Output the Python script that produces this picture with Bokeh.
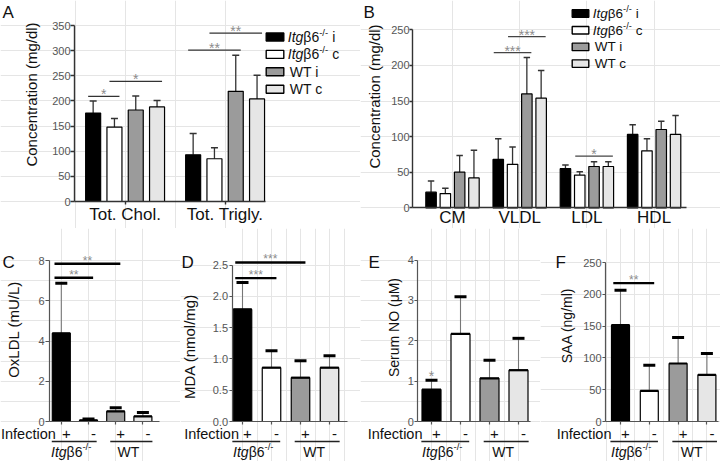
import math
from bokeh.plotting import figure
from bokeh.models import Range1d, LinearAxis, FixedTicker, PrintfTickFormatter
from bokeh.layouts import row, column
from bokeh.embed import file_html
from bokeh.resources import INLINE
from bokeh.core.properties import value

FONT = "Liberation Sans"
INK = "#111111"
TICK_GREY = "#555555"
STAR_GREY = "#8c8c8c"
FILLS = ["#000000", "#ffffff", "#9b9b9b", "#e6e6e6"]

# ---------------- data ----------------
legend_suffix = ["i", "c"]             # Itgb6-/- i, Itgb6-/- c
legend_wt = ["WT i", "WT c"]

# Panel A
a_categories = ["Tot. Chol.", "Tot. Trigly."]
a_ko_i = [176, 93]
a_ko_i_err = [24, 42]
a_ko_c = [148, 85]
a_ko_c_err = [17, 22]
a_wt_i = [182, 219]
a_wt_i_err = [28, 72]
a_wt_c = [188, 204]
a_wt_c_err = [13, 47]
a_yticks = [0, 50, 100, 150, 200, 250, 300, 350]
a_sig = [(0, 0, 1, 209, "*"), (0, 1, 3, 239, "*"),
         (1, 0, 2, 301, "**"), (1, 1, 3, 335, "**")]

# Panel B
b_categories = ["CM", "VLDL", "LDL", "HDL"]
b_ko_i = [22, 68, 55, 103]
b_ko_i_err = [15.5, 29, 5, 13.5]
b_ko_c = [20, 61, 46, 80]
b_ko_c_err = [7.5, 24.5, 4.7, 17]
b_wt_i = [50, 160, 58, 110]
b_wt_i_err = [23.5, 51, 6.6, 11.6]
b_wt_c = [42, 154, 58, 103]
b_wt_c_err = [39, 39, 6.6, 26.6]
b_yticks = [0, 50, 100, 150, 200, 250]
b_sig = [(1, 0, 2, 218, "***"), (1, 1, 3, 240.5, "***"), (2, 1, 3, 72.5, "*")]

# Panels C-F : bars = Itgb6-/- +, Itgb6-/- -, WT +, WT -
infection = ["+", "-", "+", "-"]
c_mean = [4.38, 0.06, 0.50, 0.25]
c_err = [2.49, 0.06, 0.18, 0.20]
c_yticks = [0, 2, 4, 6, 8]
c_sig = [(0, 1, 7.14, "**"), (0, 2, 7.84, "**")]

d_mean = [1.79, 0.86, 0.70, 0.86]
d_err = [0.43, 0.27, 0.27, 0.19]
d_yticks = [0, 0.5, 1.0, 1.5, 2.0, 2.5]
d_sig = [(0, 1, 2.29, "***"), (0, 2, 2.54, "***")]

e_mean = [0.79, 2.17, 1.07, 1.27]
e_err = [0.23, 0.92, 0.45, 0.79]
e_yticks = [0, 1, 2, 3, 4]
e_star = [(0, "*")]

f_mean = [151.5, 48.2, 91.2, 73.4]
f_err = [55, 40.4, 40.8, 33.5]
f_yticks = [0, 50, 100, 150, 200, 250]
f_sig = [(0, 1, 217.5, "**")]

# ---------------- helpers ----------------
CW = {"I": .278, "t": .278, "g": .556, "β": .575, "6": .556, "-": .333, "/": .278,
      " ": .278, "i": .222, "c": .5, "W": .944, "T": .611, "n": .556, "f": .278,
      "e": .556, "o": .556, "+": .584}


def tw(s, fs):
    return sum(CW.get(ch, 0.556) for ch in s) * fs


class Panel:
    """canvas px -> data mapping: px_x = x0 + x*sx ; px_y = y0 - y*sy"""

    def __init__(self, left, top, width, height, x0, sx, y0, sy):
        self.x0, self.sx, self.y0, self.sy = x0, sx, y0, sy
        self.p = figure(width=width, height=height,
                        x_range=Range1d(self.dx(left), self.dx(left + width)),
                        y_range=Range1d(self.dy(top + height), self.dy(top)),
                        output_backend="svg", toolbar_location=None,
                        x_axis_location=None, y_axis_location=None,
                        min_border=0, outline_line_color=None,
                        background_fill_color="#ffffff", border_fill_color="#ffffff")

    def dx(self, px):
        return (px - self.x0) / self.sx

    def dy(self, py):
        return (self.y0 - py) / self.sy

    def text(self, px, py, txt, fs, style="normal", align="left",
             baseline="middle", color=INK, angle=0.0):
        self.p.text(x=[self.dx(px)], y=[self.dy(py)], text=[txt],
                    text_font=value(FONT), text_font_size=f"{fs}px",
                    text_font_style=style, text_align=align,
                    text_baseline=baseline, text_color=color, angle=angle)


def itg(panel, px, py, fs, suffix="", align="left"):
    pieces = [("Itg", fs, "italic", 0.0, 0.0), ("β6", fs, "normal", 0.0, 0.0),
              ("-/-", round(fs * 0.68, 1), "normal", -0.34 * fs, 0.0)]
    if suffix:
        pieces.append((suffix, fs, "normal", 0.0, 4.0))
    total = sum(tw(t, s) + g for t, s, _, _, g in pieces)
    x = px - total / 2 if align == "center" else px
    for t, s, st, d, g in pieces:
        x += g
        panel.text(x, py + d, t, s, style=st)
        x += tw(t, s)


def add_axes(panel, yloc_px, xend_px, yticks, ylabel, ylabel_fs, ylabel_cx, ylabel_cy,
             xticks, xlabels, xlabel_fs=17, y_tick_out=4, y_lab_standoff=0,
             x_tick_out=3, x_lab_standoff=0, color="#333333", lw=1.4, yfmt=None):
    xl = panel.dx(yloc_px)
    yax = LinearAxis(fixed_location=xl, bounds=(0, yticks[-1]),
                     ticker=FixedTicker(ticks=yticks, minor_ticks=[]))
    if yfmt is not None:
        yax.formatter = yfmt
    xax = LinearAxis(fixed_location=0, bounds=(xl, panel.dx(xend_px)),
                     ticker=FixedTicker(ticks=xticks, minor_ticks=[]),
                     major_label_overrides=dict(zip(xticks, xlabels)))
    for ax in (yax, xax):
        ax.axis_line_color = color
        ax.axis_line_width = lw
        ax.major_tick_line_color = color
        ax.major_tick_line_width = lw
        ax.major_tick_in = 0
        ax.minor_tick_in = 0
        ax.minor_tick_out = 0
        ax.major_label_text_font = FONT
    yax.major_tick_out = int(y_tick_out)
    yax.major_label_standoff = int(y_lab_standoff)
    yax.major_label_text_font_size = "11px"
    yax.major_label_text_color = TICK_GREY
    xax.major_tick_out = int(x_tick_out)
    xax.major_label_standoff = int(x_lab_standoff)
    xax.major_label_text_font_size = f"{xlabel_fs}px"
    xax.major_label_text_color = INK
    panel.p.add_layout(yax, "left")
    panel.p.add_layout(xax, "below")
    # axis title, rotated to read bottom-to-top
    panel.text(ylabel_cx, ylabel_cy, ylabel, ylabel_fs, align="center",
               baseline="middle", angle=math.pi / 2)


def grouped_bars(panel, series, errs, pitch, width, cap_half):
    for k, (vals, es) in enumerate(zip(series, errs)):
        xs = [g + (k - 1.5) * pitch for g in range(len(vals))]
        tops = [v + e for v, e in zip(vals, es)]
        panel.p.segment(x0=xs, y0=vals, x1=xs, y1=tops, line_color="#333333", line_width=1.3)
        panel.p.segment(x0=[x - cap_half for x in xs], y0=tops,
                        x1=[x + cap_half for x in xs], y1=tops,
                        line_color="#333333", line_width=1.5)
        panel.p.vbar(x=xs, top=vals, bottom=0, width=width, fill_color=FILLS[k],
                     line_color="#000000", line_width=1.2)


def grouped_sig(panel, sigs, pitch, ext, color, lw, fs, yoff):
    for g, a, b, yv, lab in sigs:
        x0 = g + (a - 1.5) * pitch - ext
        x1 = g + (b - 1.5) * pitch + ext
        panel.p.segment(x0=[x0], y0=[yv], x1=[x1], y1=[yv], line_color=color, line_width=lw)
        panel.p.text(x=[(x0 + x1) / 2], y=[yv], text=[lab], y_offset=yoff,
                     text_font=value(FONT), text_font_size=f"{fs}px",
                     text_align="center", text_baseline="alphabetic", text_color=STAR_GREY)


def legend(panel, sq_cx, row_y0, row_dy, sq_w, sq_h, text_x, fs):
    for k in range(4):
        y = row_y0 + k * row_dy
        panel.p.rect(x=[panel.dx(sq_cx)], y=[panel.dy(y)], width=sq_w, height=sq_h,
                     width_units="screen", height_units="screen",
                     fill_color=FILLS[k], line_color="#000000", line_width=1.4)
        if k < 2:
            itg(panel, text_x, y, fs, suffix=legend_suffix[k])
        else:
            panel.text(text_x + 2, y, legend_wt[k - 2], fs)


def simple_panel(panel, means, errs, width, cap_half_px, sigs, sig_ext_l, sig_ext_r,
                 infection_x, infection_align, infection_fs):
    xs = list(range(len(means)))
    tops = [m + e for m, e in zip(means, errs)]
    ch = cap_half_px / panel.sx
    panel.p.segment(x0=xs, y0=means, x1=xs, y1=tops, line_color="#777777", line_width=1.1)
    panel.p.vbar(x=xs, top=means, bottom=0, width=width, fill_color=FILLS,
                 line_color="#000000", line_width=1.2)
    panel.p.segment(x0=[x - width / 2 for x in xs], y0=means,
                    x1=[x + width / 2 for x in xs], y1=means,
                    line_color="#000000", line_width=2.2)
    panel.p.segment(x0=[x - ch for x in xs], y0=tops, x1=[x + ch for x in xs], y1=tops,
                    line_color="#000000", line_width=3)
    for a, b, yv, lab in sigs:
        x0 = a - sig_ext_l
        x1 = b + sig_ext_r
        panel.p.segment(x0=[x0], y0=[yv], x1=[x1], y1=[yv], line_color="#000000", line_width=2.4)
        panel.p.text(x=[(x0 + x1) / 2], y=[yv], text=[lab], y_offset=-3,
                     text_font=value(FONT), text_font_size="12px",
                     text_align="center", text_baseline="alphabetic", text_color=STAR_GREY)
    # infection row
    panel.p.text(x=xs, y=[0] * len(xs), text=infection, x_offset=5, y_offset=12.5,
                 text_font=value(FONT), text_font_size="15px",
                 text_align="center", text_baseline="middle", text_color=INK)
    panel.text(infection_x, 433.5, "Infection", infection_fs, align=infection_align)
    uy = panel.dy(441)
    panel.p.segment(x0=[-0.35, 1.8], y0=[uy, uy], x1=[1.3, 3.35], y1=[uy, uy],
                    line_color="#222222", line_width=1.3)
    c1 = panel.x0 + panel.sx * (-0.35 + 1.3) / 2 - 3
    c2 = panel.x0 + panel.sx * (1.8 + 3.35) / 2 - 3
    itg(panel, c1, 451, 14, align="center")
    panel.text(c2, 451, "WT", 14, align="center")


# ---------------- Panel A ----------------
pa = Panel(0, 0, 360, 228, 124.6, 100.0, 201.0, 176.0 / 350)
grouped_bars(pa, [a_ko_i, a_ko_c, a_wt_i, a_wt_c],
             [a_ko_i_err, a_ko_c_err, a_wt_i_err, a_wt_c_err], 0.213, 0.15, 0.035)
grouped_sig(pa, a_sig, 0.213, 0.05, "#333333", 1.3, 14, -2)
add_axes(pa, 74, 265, a_yticks, "Concentration (mg/dl)", 15, 31, 94,
         [0, 1], a_categories, xlabel_fs=17, x_tick_out=3, x_lab_standoff=0)
legend(pa, 274.5, 36.5, 17.4, 17.6, 8, 287.3, 14)
pa.text(2, 2, "A", 17, baseline="top")

# ---------------- Panel B ----------------
pb = Panel(360, 0, 360, 228, 452.0, 67.2, 207.3, 178.0 / 250)
grouped_bars(pb, [b_ko_i, b_ko_c, b_wt_i, b_wt_c],
             [b_ko_i_err, b_ko_c_err, b_wt_i_err, b_wt_c_err], 0.2128, 0.156, 0.048)
grouped_sig(pb, b_sig, 0.2128, 0.067, "#444444", 1.2, 14, -2)
add_axes(pb, 412, 686, b_yticks, "Concentration (mg/dl)", 15, 374, 96,
         [0, 1, 2, 3], b_categories, xlabel_fs=17, y_tick_out=3, x_tick_out=0,
         x_lab_standoff=0)
legend(pb, 580, 13, 16.7, 16.6, 7.5, 592.3, 13.5)
pb.text(363, 2, "B", 17, baseline="top")

# ---------------- Panel C ----------------
pc = Panel(0, 228, 180, 233, 60.8, 27.2, 421.0, 161.0 / 8)
simple_panel(pc, c_mean, c_err, 18 / 27.2, 6, c_sig, 0.25, 0.17, 0.5, "left", 14.5)
add_axes(pc, 49, 159, c_yticks, "OxLDL (mU/L)", 15, 13, 329, [0, 1, 2, 3], [""] * 4,
         xlabel_fs=11, y_tick_out=4, y_lab_standoff=1, color="#555555", lw=1.2)
pc.text(2, 252, "C", 17, baseline="top")

# ---------------- Panel D ----------------
pd_ = Panel(180, 228, 180, 233, 242.0, 29.0, 421.0, 156.5 / 2.5)
simple_panel(pd_, d_mean, d_err, 18.5 / 29.0, 6, d_sig, 0.25, 0.17, 238.5, "right", 14.5)
add_axes(pd_, 231.5, 346.5, d_yticks, "MDA (nmol/mg)", 15, 189, 346, [0, 1, 2, 3], [""] * 4,
         xlabel_fs=11, y_tick_out=3, y_lab_standoff=1, color="#555555", lw=1.2,
         yfmt=PrintfTickFormatter(format="%.1f"))
pd_.text(181, 252, "D", 17, baseline="top")

# ---------------- Panel E ----------------
pe = Panel(360, 228, 180, 233, 431.0, 29.0, 421.0, 161.5 / 4)
simple_panel(pe, e_mean, e_err, 19 / 29.0, 6, [], 0.25, 0.17, 422, "right", 14.5)
for bar, lab in e_star:
    pe.p.text(x=[bar], y=[e_mean[bar] + e_err[bar]], text=[lab], y_offset=-4,
              text_font=value(FONT), text_font_size="14px", text_align="center",
              text_baseline="alphabetic", text_color=STAR_GREY)
add_axes(pe, 417.3, 530, e_yticks, "Serum NO (μM)", 14, 393, 327, [0, 1, 2, 3], [""] * 4,
         xlabel_fs=11, y_tick_out=3, y_lab_standoff=1, color="#555555", lw=1.2)
pe.text(368, 252, "E", 17, baseline="top")

# ---------------- Panel F ----------------
pf = Panel(540, 228, 180, 233, 620.0, 28.8, 421.0, 159.0 / 250)
simple_panel(pf, f_mean, f_err, 18 / 28.8, 6, f_sig, 0.25, 0.17, 611, "right", 14.5)
add_axes(pf, 605, 718, f_yticks, "SAA (ng/ml)", 14, 566, 325, [0, 1, 2, 3], [""] * 4,
         xlabel_fs=11, y_tick_out=3, y_lab_standoff=1, color="#555555", lw=1.2)
pf.text(555, 252, "F", 17, baseline="top")

layout = column(row(pa.p, pb.p), row(pc.p, pd_.p, pe.p, pf.p))
open("out.html", "w").write(file_html(layout, INLINE))
